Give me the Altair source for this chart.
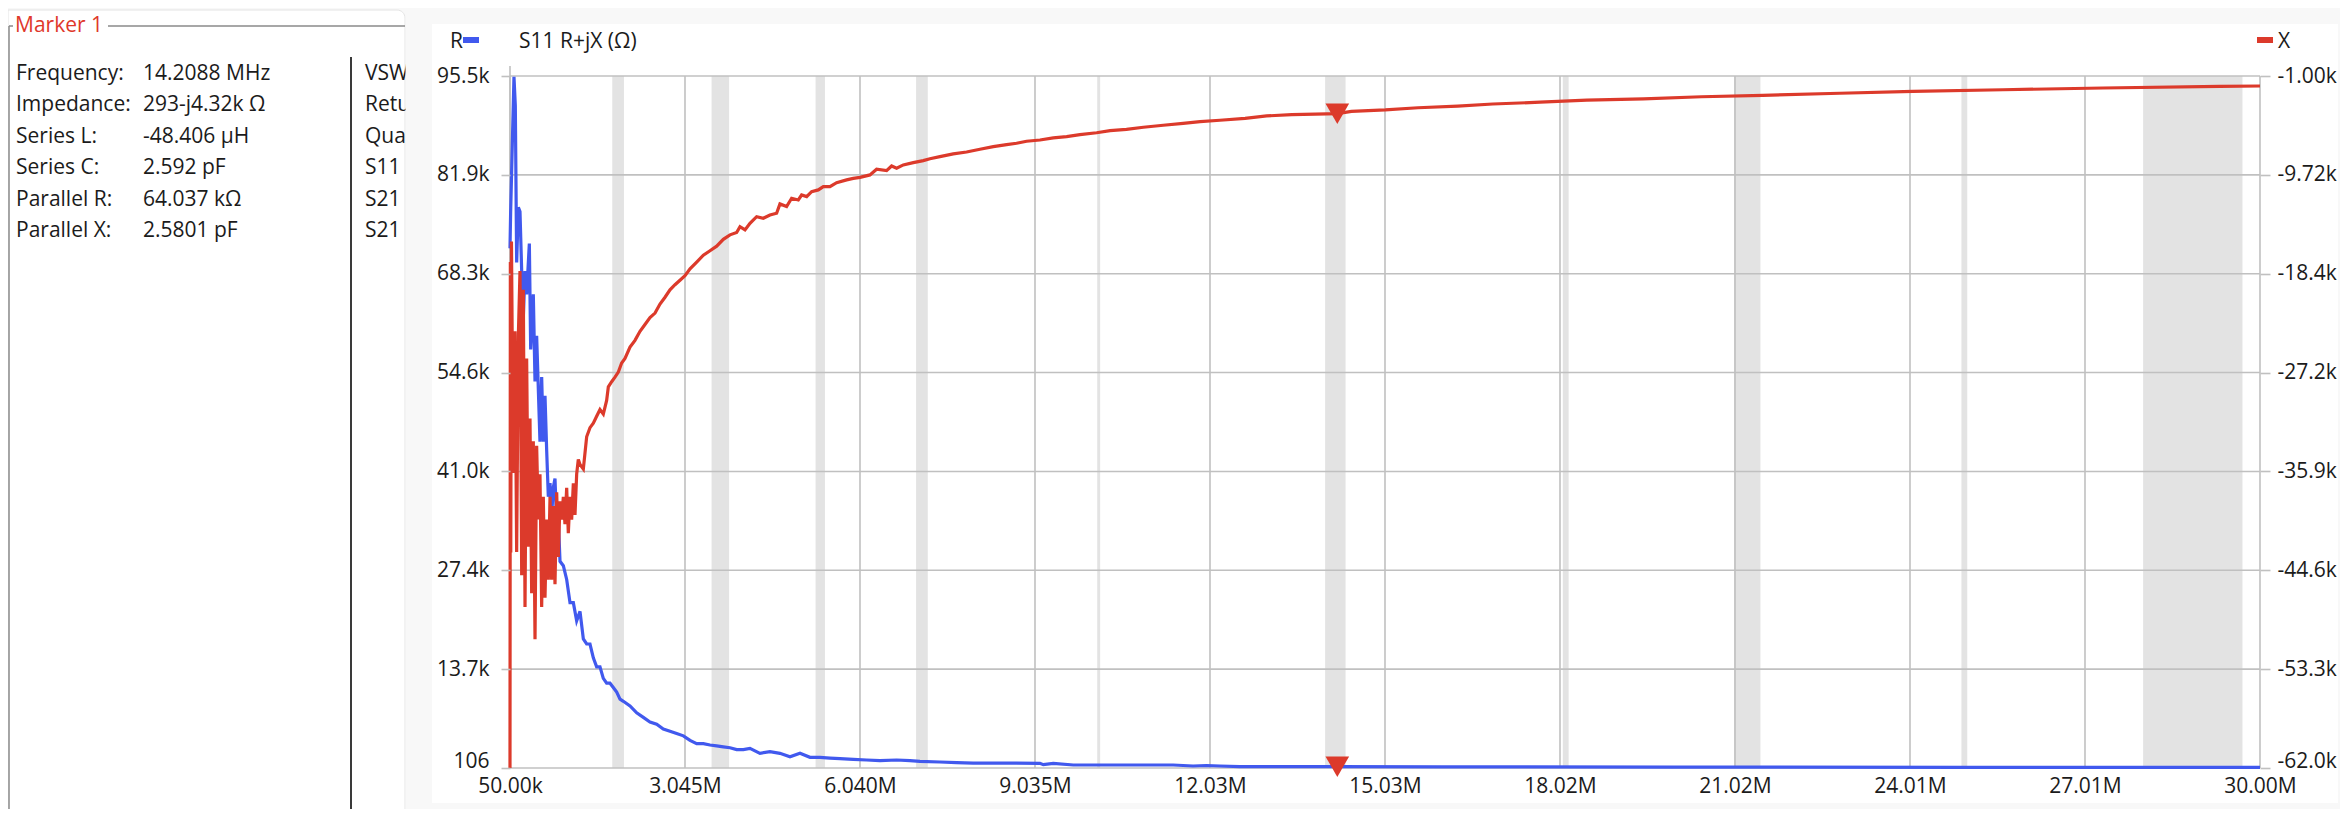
import altair as alt
import pandas as pd

# ---------------- data ----------------
freq_R = [0.05, 0.061, 0.118, 0.141, 0.164, 0.193, 0.221, 0.250, 0.278, 0.307,
          0.335, 0.381, 0.404, 0.449, 0.478, 0.506, 0.563, 0.592, 0.620, 0.649,
          0.678, 0.706, 0.735, 0.763, 0.792, 0.820, 0.849, 0.877, 0.906, 0.963,
          1.020, 1.077, 1.134, 1.191, 1.248, 1.305, 1.362, 1.419, 1.476, 1.533,
          1.590, 1.647, 1.704, 1.761, 1.818, 1.876, 1.933, 1.990, 2.104, 2.218,
          2.332, 2.446, 2.560, 2.674, 2.788, 2.902, 3.017, 3.131, 3.245, 3.359,
          3.473, 3.587, 3.701, 3.815, 3.929, 4.043, 4.157, 4.328, 4.499, 4.670,
          4.842, 5.013, 5.184, 5.355, 5.526, 5.697, 5.925, 6.153, 6.381, 6.667,
          6.895, 7.066, 7.408, 7.693, 7.979, 8.549, 9.120, 9.177, 9.348, 9.690,
          10.26, 10.83, 11.40, 11.74, 11.97, 12.20, 12.54, 14.2088, 16.0, 20.0,
          25.0, 30.0]
R_ohm = [71740, 76800, 95400, 91400, 69800, 77400, 76800, 68600, 62200, 68600,
         65400, 72400, 57800, 65400, 53400, 59700, 45100, 54000, 45100, 51400,
         43800, 37500, 39400, 35000, 38800, 40000, 33700, 34300, 28600, 28000,
         26100, 22900, 22900, 20400, 21700, 17900, 17200, 17200, 15300, 14050,
         14050, 12460, 11800, 11800, 11200, 10560, 9600, 9300, 8660, 7710,
         7080, 6450, 6130, 5490, 5180, 4860, 4540, 3910, 3470, 3470,
         3280, 3150, 3020, 2900, 2640, 2640, 2820, 2130, 2350, 2130,
         1660, 2130, 1580, 1580, 1480, 1390, 1300, 1210, 1120, 1210,
         1120, 1030, 930, 836, 790, 790, 754, 570, 754, 519,
         519, 519, 519, 382, 450, 382, 285, 293, 260, 230,
         200, 180]

freq_X = [0.05, 0.056, 0.063, 0.075, 0.105, 0.136, 0.164, 0.193, 0.221, 0.250,
          0.278, 0.307, 0.335, 0.364, 0.392, 0.421, 0.449, 0.478, 0.506, 0.535,
          0.563, 0.592, 0.620, 0.649, 0.678, 0.706, 0.735, 0.763, 0.792, 0.820,
          0.849, 0.877, 0.906, 0.934, 0.963, 0.991, 1.020, 1.048, 1.077, 1.105,
          1.134, 1.162, 1.191, 1.219, 1.248, 1.305, 1.362, 1.419, 1.476, 1.533,
          1.590, 1.647, 1.704, 1.733, 1.790, 1.847, 1.904, 1.961, 2.018, 2.104,
          2.189, 2.275, 2.360, 2.446, 2.532, 2.617, 2.703, 2.788, 2.874, 2.959,
          3.045, 3.131, 3.245, 3.359, 3.473, 3.587, 3.701, 3.815, 3.929, 3.986,
          4.072, 4.157, 4.271, 4.385, 4.499, 4.613, 4.670, 4.784, 4.870, 4.984,
          5.041, 5.127, 5.212, 5.326, 5.412, 5.526, 5.640, 5.811, 5.925, 6.040,
          6.210, 6.324, 6.495, 6.581, 6.667, 6.781, 6.952, 7.123, 7.237, 7.408,
          7.636, 7.864, 8.093, 8.321, 8.549, 8.720, 8.891, 9.120, 9.348, 9.576,
          9.804, 10.09, 10.32, 10.60, 10.89, 11.23, 11.57, 11.86, 12.20, 12.63,
          13.00, 13.43, 14.03, 14.2088, 14.45, 15.03, 15.59, 16.27, 16.87, 17.68,
          18.48, 19.45, 20.44, 21.49, 22.81, 24.06, 25.6, 27.31, 29.31, 30.0]
X_ohm = [-62000, -17400, -43000, -15600, -36000, -23500, -42950, -23900, -18200, -45000,
         -19850, -47800, -25900, -42500, -31200, -46600, -33200, -50650, -33600, -40100,
         -36100, -47800, -38100, -47000, -40100, -45400, -38100, -45400, -38900, -45800,
         -37700, -43400, -38500, -40100, -38100, -40500, -37300, -41300, -38100, -40100,
         -36900, -39700, -36100, -34800, -35250, -35650, -32800, -32000, -31600, -31000,
         -30400, -30800, -29600, -28400, -27950, -27550, -27100, -26300, -25900, -24900,
         -24300, -23500, -22900, -22300, -21900, -21100, -20500, -19850, -19400, -19000,
         -18600, -18000, -17400, -16800, -16400, -16000, -15400, -15000, -14800, -14280,
         -14570, -13980, -13400, -13540, -13250, -13100, -12280, -12510, -11780, -11930,
         -11490, -11630, -11190, -11040, -10750, -10750, -10400, -10160, -10020, -9930,
         -9720, -9220, -9340, -8930, -9130, -8840, -8640, -8460, -8290, -8110,
         -7870, -7700, -7460, -7230, -7050, -6930, -6750, -6640, -6460, -6350,
         -6170, -6000, -5820, -5700, -5520, -5340, -5170, -5030, -4900, -4730,
         -4520, -4400, -4330, -4320, -4120, -3990, -3800, -3650, -3470, -3310,
         -3130, -3010, -2830, -2700, -2520, -2350, -2210, -2060, -1910, -1880]

marker_freq = [14.2088]
marker_R = [293]
marker_X = [-4320]

x_ticks = [0.05, 3.045, 6.04, 9.035, 12.03, 15.025, 18.02, 21.015, 24.01, 27.005, 30.0]
x_labels = ["50.00k", "3.045M", "6.040M", "9.035M", "12.03M", "15.03M",
            "18.02M", "21.02M", "24.01M", "27.01M", "30.00M"]
yl_ticks = [106, 13734, 27362, 40990, 54618, 68246, 81874, 95502]
yl_labels = ["106", "13.7k", "27.4k", "41.0k", "54.6k", "68.3k", "81.9k", "95.5k"]
yr_ticks = [-62000, -53286, -44571, -35857, -27143, -18429, -9714, -1000]
yr_labels = ["-62.0k", "-53.3k", "-44.6k", "-35.9k", "-27.2k", "-18.4k", "-9.72k", "-1.00k"]

band_lo = [1.8, 3.5, 5.28, 7.0, 10.1, 14.0, 18.068, 21.0, 24.89, 28.0]
band_hi = [2.0, 3.8, 5.44, 7.2, 10.15, 14.35, 18.168, 21.45, 24.99, 29.7]

panel_keys = ["Frequency:", "Impedance:", "Series L:", "Series C:", "Parallel R:", "Parallel X:"]
panel_vals = ["14.2088 MHz", "293-j4.32k Ω", "-48.406 µH", "2.592 pF", "64.037 kΩ", "2.5801 pF"]
panel_col2 = ["VSW", "Retu", "Qua", "S11", "S21", "S21"]

# ---------------- styling ----------------
FONT = "Open Sans"
TXT = "#1b1b1b"
BLUE = "#4159EE"
RED = "#DC3A2B"
GRID = "#c0c0c0"
BAND = "#e3e3e3"
BG = "#f8f8f8"
W, H = 1750, 692
FS = 21


def label_expr(vals, labels):
    expr = "''"
    for v, l in zip(reversed(vals), reversed(labels)):
        expr = f"abs(datum.value - ({v})) < 1e-6 ? '{l}' : ({expr})"
    return expr


xs = alt.Scale(domain=[0.05, 30.0], nice=False, zero=False)
yls = alt.Scale(domain=[106, 95502], nice=False, zero=False)
yrs = alt.Scale(domain=[-62000, -1000], nice=False, zero=False)

x_axis = alt.Axis(values=x_ticks, labelExpr=label_expr(x_ticks, x_labels), grid=False,
                  domain=False, ticks=False, labelPadding=7, labelFontSize=FS, labelFont=FONT,
                  labelColor=TXT, labelFlush=False, labelOverlap=False, zindex=1)
yl_axis = alt.Axis(orient="left", values=yl_ticks, labelExpr=label_expr(yl_ticks, yl_labels),
                   grid=False, domain=False, ticks=True, tickSize=9, tickColor=GRID,
                   tickWidth=1.6, labelPadding=12, labelFontSize=FS, labelFont=FONT,
                   labelColor=TXT, labelOverlap=False, zindex=1,
                   labelOffset={"condition": {"test": f"datum.value == {yl_ticks[0]}", "value": -7},
                                "value": 0})
yr_axis = alt.Axis(orient="right", values=yr_ticks, labelExpr=label_expr(yr_ticks, yr_labels),
                   grid=False, domain=False, ticks=True, tickSize=10, tickColor=GRID,
                   tickWidth=1.6, labelPadding=7, labelFontSize=FS, labelFont=FONT,
                   labelColor=TXT, labelOverlap=False, zindex=1,
                   labelOffset={"condition": {"test": f"datum.value == {yr_ticks[0]}", "value": -7},
                                "value": 0})

one = pd.DataFrame({"k": [0]})


def X(field):
    return alt.X(field, scale=xs, axis=x_axis, title=None)


def box(x, x2, y, y2, **kw):
    return alt.Chart(one).mark_rect(**kw).encode(
        x=alt.value(x), x2=alt.value(x2), y=alt.value(y), y2=alt.value(y2))


def line(x, x2, y, y2, color, w):
    return alt.Chart(one).mark_rule(color=color, strokeWidth=w).encode(
        x=alt.value(x), x2=alt.value(x2), y=alt.value(y), y2=alt.value(y2))


def txt(s, x, y, color=TXT, size=FS, align="left"):
    return alt.Chart(one).mark_text(text=s, align=align, baseline="middle", font=FONT,
                                    fontSize=size, color=color).encode(
        x=alt.value(x), y=alt.value(y))


# page offset of plot origin: (510, 76)
layers_left = []
layers_left.append(box(-502, -105, -66, 740, color="white", stroke="#e4e4e4",
                       strokeWidth=1, cornerRadiusTopRight=8))
layers_left.append(box(-78, 1828, -52, 727, color="white"))

bands = pd.DataFrame({"lo": band_lo, "hi": band_hi})
layers_left.append(alt.Chart(bands).mark_rect(color=BAND).encode(
    x=X("lo:Q"), x2="hi:Q", y=alt.value(0), y2=alt.value(H)))

vg = pd.DataFrame({"f": x_ticks})
layers_left.append(alt.Chart(vg).mark_rule(color=GRID, strokeWidth=1.6).encode(x=X("f:Q")))
vg0 = pd.DataFrame({"f": x_ticks[:1]})
layers_left.append(alt.Chart(vg0).mark_rule(color=GRID, strokeWidth=1.6).encode(
    x=X("f:Q"), y=alt.value(-10), y2=alt.value(H)))
hg = pd.DataFrame({"v": yl_ticks})
layers_left.append(alt.Chart(hg).mark_rule(color=GRID, strokeWidth=1.6).encode(
    y=alt.Y("v:Q", scale=yls, axis=yl_axis, title=None)))

dR = pd.DataFrame({"f": freq_R, "R": R_ohm})
layers_left.append(alt.Chart(dR).mark_line(color=BLUE, strokeWidth=3.2).encode(
    x=X("f:Q"), y=alt.Y("R:Q", scale=yls, axis=yl_axis, title=None)))
dMR = pd.DataFrame({"f": marker_freq, "R": marker_R})
layers_left.append(alt.Chart(dMR).mark_point(shape="triangle-down", filled=True, size=560,
                                             color=RED, opacity=1).encode(
    x=X("f:Q"), y=alt.Y("R:Q", scale=yls, axis=yl_axis, title=None)))

layers_left.append(txt("Marker 1", -495, -50, color="#e0382a"))
layers_left.append(line(-402, -105, -50, -50, "#8a8a8a", 1.5))
layers_left.append(line(-501, -497, -50, -50, "#8a8a8a", 1.5))
layers_left.append(line(-501, -501, -50, 740, "#8a8a8a", 1.5))
layers_left.append(line(-159, -159, -19, 740, "#3a3a3a", 2))
for i, (k, v, c) in enumerate(zip(panel_keys, panel_vals, panel_col2)):
    yy = -2 + i * 31.4
    layers_left.append(txt(k, -494, yy))
    layers_left.append(txt(v, -367, yy))
    layers_left.append(txt(c, -145, yy))
layers_left.append(box(-104.5, -78, -70, 740, color=BG))

layers_left.append(txt("R", -60, -34))
layers_left.append(box(-47, -31, -39, -33, color=BLUE))
layers_left.append(txt("S11 R+jX (Ω)", 9, -34))
layers_left.append(box(1747, 1763, -39, -33, color=RED))
layers_left.append(txt("X", 1768, -34))

left = alt.layer(*layers_left)

dX = pd.DataFrame({"f": freq_X, "X": X_ohm})
dMX = pd.DataFrame({"f": marker_freq, "X": marker_X})
right = alt.layer(
    alt.Chart(dX).mark_line(color=RED, strokeWidth=3.2).encode(
        x=X("f:Q"), y=alt.Y("X:Q", scale=yrs, axis=yr_axis, title=None)),
    alt.Chart(dMX).mark_point(shape="triangle-down", filled=True, size=560,
                              color=RED, opacity=1).encode(
        x=X("f:Q"), y=alt.Y("X:Q", scale=yrs, axis=yr_axis, title=None)),
)

chart = alt.layer(left, right).resolve_scale(y="independent").properties(
    width=W, height=H,
    autosize=alt.AutoSizeParams(type="none"),
    padding={"left": 502, "top": 68, "right": 80, "bottom": 41},
    background=BG,
).configure_view(strokeWidth=0)

chart.save("out.html", embed_options={"renderer": "svg", "actions": False})
